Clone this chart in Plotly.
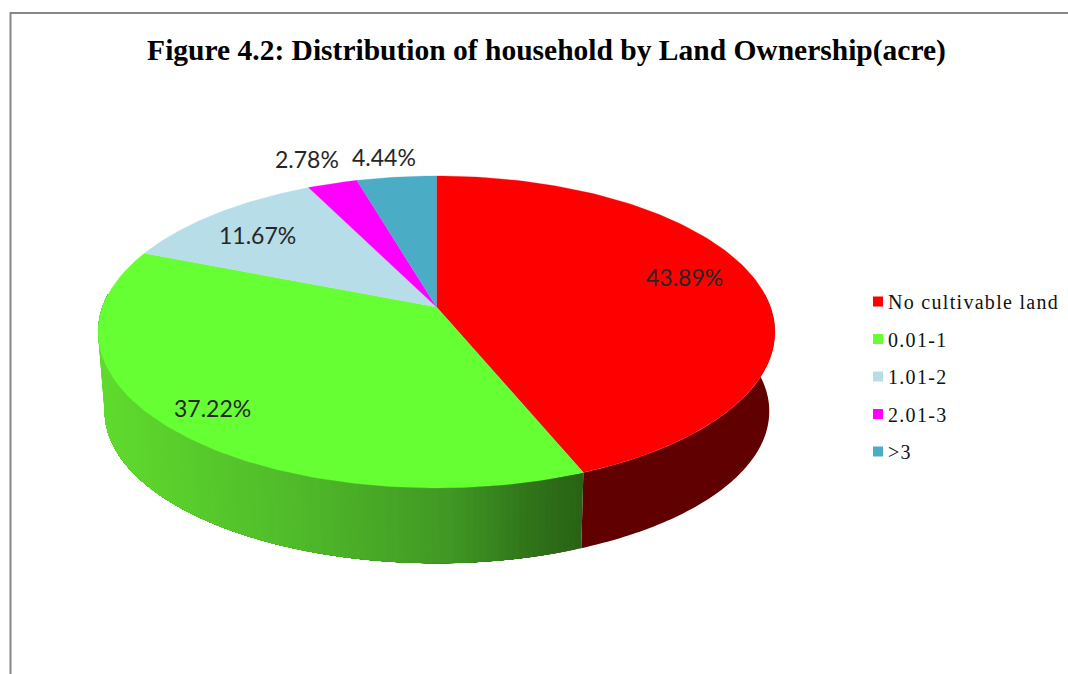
import numpy as np
import plotly.graph_objects as go

categories = ["No cultivable land", "0.01-1", "1.01-2", "2.01-3", ">3"]
shares = [43.89, 37.22, 11.67, 2.78, 4.44]
labels = ["43.89%", "37.22%", "11.67%", "2.78%", "4.44%"]
colors = ["#FF0000", "#66FF33", "#B7DDE8", "#FF00FF", "#4BACC6"]
TITLE = "Figure 4.2: Distribution of household by Land Ownership(acre)"

W, H = 1068, 674
CX, CY, AX, BY, K = 436.5, 307.0, 334.0, 152.0, 0.16     # top face projection
CX2, CY2, AX2, BY2 = 437.0, 387.0, 328.0, 148.0          # bottom rim projection


def rim(a_deg, cx, cy, ax, by):
    a = np.radians(a_deg)
    d = 1 + K * np.cos(a)
    return cx + ax * np.sin(a) / d, cy - by * np.cos(a) / d


def top(a):
    return rim(a, CX, CY, AX, BY)


def bottom(a):
    return rim(a, CX2, CY2, AX2, BY2)


def lerp_color(x):
    stops_x = [100, 300, 450, 530, 582]
    stops = [(0x60, 0xDC, 0x2E), (0x50, 0xBA, 0x2A), (0x41, 0x98, 0x24), (0x30, 0x74, 0x1A), (0x2A, 0x63, 0x16)]
    c = [np.interp(x, stops_x, [s[i] for s in stops]) for i in range(3)]
    return "rgb(%d,%d,%d)" % tuple(c)


fig = go.Figure()

edges = np.concatenate([[0], np.cumsum(shares)]) / sum(shares) * 360.0
red_end = edges[1]

# Side wall: red slice
a = np.linspace(85, red_end, 80)
tx, ty = top(a)
bx, by = bottom(a)
fig.add_trace(go.Scatter(x=np.r_[tx, bx[::-1]], y=np.r_[ty, by[::-1]], mode="none", fill="toself",
                         fillcolor="#600000", showlegend=False, hoverinfo="skip"))

# Side wall: green slice, horizontal shading; each layer overlaps the rest of the wall so no seams show
wall_end = min(edges[2] + 12, 275)
strip_edges = np.linspace(red_end, wall_end, 120)
for a0, a1 in zip(strip_edges[:-1], strip_edges[1:]):
    seg = np.linspace(a0, wall_end, 60)
    tx, ty = top(seg)
    bx, by = bottom(seg)
    cx0, _ = top(np.array([(a0 + a1) / 2]))
    cx1, _ = bottom(np.array([(a0 + a1) / 2]))
    col = lerp_color((cx0[0] + cx1[0]) / 2)
    fig.add_trace(go.Scatter(x=np.r_[tx, bx[::-1]], y=np.r_[ty, by[::-1]], mode="none", fill="toself",
                             fillcolor=col, showlegend=False, hoverinfo="skip"))

# Top faces
for i, name in enumerate(categories):
    a = np.linspace(edges[i], edges[i + 1], 120)
    x, y = top(a)
    fig.add_trace(go.Scatter(x=np.r_[CX, x, CX], y=np.r_[CY, y, CY], mode="lines", fill="toself",
                             fillcolor=colors[i], line=dict(color=colors[i], width=0.3),
                             showlegend=False, hoverinfo="skip"))

# Legend entries
for name, col in zip(categories, colors):
    fig.add_trace(go.Scatter(x=[None], y=[None], mode="markers", name=name, legendgroup=name,
                             marker=dict(symbol="square", size=10, color=col)))

label_px = [(684, 277), (212, 408), (257, 235), (307, 159), (384, 157)]
annotations = [dict(x=p[0], y=p[1], xref="x", yref="y", text=t, showarrow=False, xanchor="center", yanchor="middle",
                    font=dict(family="Lato", size=23, color="#262626"))
               for p, t in zip(label_px, labels)]

fig.update_layout(
    width=W, height=H, margin=dict(l=0, r=0, t=0, b=0),
    paper_bgcolor="white", plot_bgcolor="white",
    xaxis=dict(range=[0, W], visible=False, fixedrange=True),
    yaxis=dict(range=[H, 0], visible=False, fixedrange=True),
    title=dict(text="<b>%s</b>" % TITLE, x=546.5 / W, xanchor="center", y=1 - 50 / H, yanchor="middle",
               font=dict(family="Liberation Serif", size=29.5, color="#000000")),
    legend=dict(x=848 / W, y=1 - 282 / H, xanchor="left", yanchor="top", tracegroupgap=8.5,
                bgcolor="rgba(0,0,0,0)", itemwidth=30,
                font=dict(family="Liberation Serif", size=20, color="#111111")),
    annotations=annotations,
    shapes=[dict(type="path", path="M 10.5 %d L 10.5 13 L %d 13" % (H + 5, W + 5), line=dict(color="#868686", width=2))],
)
post = """
document.body.style.margin='0';
document.querySelectorAll('.legendpoints').forEach(function(g){g.setAttribute('transform','translate(10,0)');});
document.querySelectorAll('.legendtext').forEach(function(t){t.style.letterSpacing='1.3px';});
document.querySelectorAll('.legend .scrollbox').forEach(function(s){s.removeAttribute('clip-path');s.style.clipPath='none';});
"""
fig.write_html("out.html", post_script=post, config={"displayModeBar": False})
